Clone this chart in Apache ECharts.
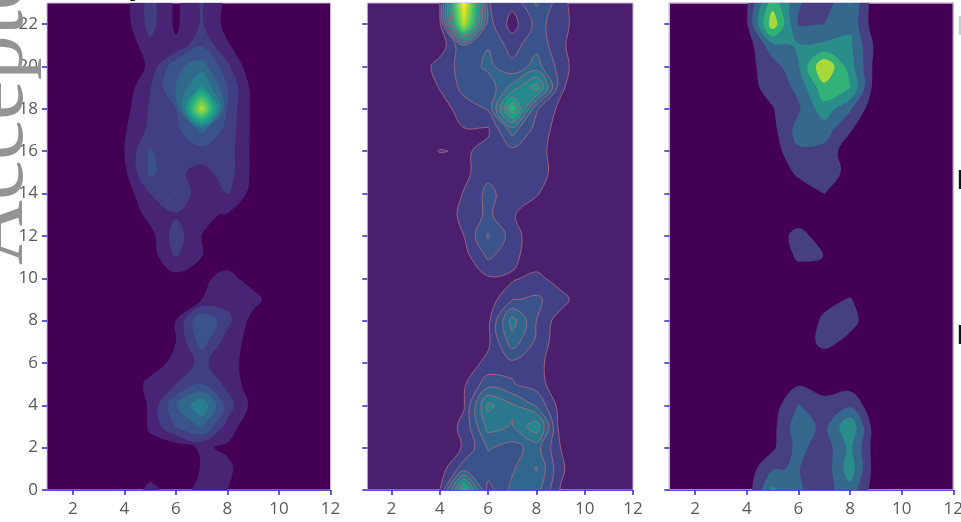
<!DOCTYPE html>
<html><head><meta charset="utf-8">
<style>html,body{margin:0;padding:0;background:#fff;overflow:hidden}#c{width:961px;height:522px}</style>
<script src="https://cdn.jsdelivr.net/npm/echarts@6/dist/echarts.min.js"></script>
</head><body><div id="c"></div>
<script>
const xValues=[1,2,3,4,5,6,7,8,9,10,11,12];
const yValues=[0,1,2,3,4,5,6,7,8,9,10,11,12,13,14,15,16,17,18,19,20,21,22,23];
const xTickValues=[2,4,6,8,10,12];
const yTickValues=[0,2,4,6,8,10,12,14,16,18,20,22];

// rows run from y=0 upward, columns x=1..12
const leftPanel=[
[0,0,0,0,11,3,11,8,0,0,0,0],
[0,0,0,0,3,2,8.5,10,1,0,0,0],
[0,0,0,0,6,3,9.5,6.5,0,0,0,0],
[0,0,0,0,9,25,33,13,1,0,0,0],
[0,0,0,1,9,31,47,20,5,0,0,0],
[0,0,0,0,11,16,24,14,3,0,0,0],
[0,0,0,0,3,11,18,10.5,5,0,0,0],
[0,0,0,0,1,8,28,12,5,0,0,0],
[0,0,0,0,1,8,32,18.5,5,0,0,0],
[0,0,0,0,2,3,8,13,11,2,0,0],
[0,0,0,0,1,5,6,11,4,0,0,0],
[0,0,0,0,4,16,8,3,0,0,0,0],
[0,0,0,0,5,20,7.9,3,0,0,0,0],
[0,0,0,1,11,15,9,7.5,2,0,0,0],
[0,0,0,3,16,24.5,10,16,5,0,0,0],
[0,0,0,6,26,18,13,20,6,0,0,0],
[0,0,0,8,25,17,21,20,6,0,0,0],
[0,0,0,7,18,22,34,21,6,0,0,0],
[0,0,0,5,17,24,90,22,6,0,0,0],
[0,0,0,3,15.5,32,50,24,5,0,0,0],
[0,0,0,0,10,30,36,18,1,0,0,0],
[0,0,0,1,14,9.5,23,9,1,0,0,0],
[0,0,0,4,19,6.5,17,5,0,0,0,0],
[0,0,0,5,19,6.5,17,6,0,0,0,0]];

const middlePanel=[
[9,9,9,15.5,62,20,32,33,15.5,9,9,9],
[9,9,9,12,27,27,29,37.5,17.5,9,9,9],
[9,9,9,9,17,30.6,27.5,33,16,9,9,9],
[9,9,9,12,17.5,39.5,36.5,49,12,9,9,9],
[9,9,9,9,15.5,46,38,29,13,9,9,9],
[9,9,9,9,15,27,23.5,20,10,9,9,9],
[9,9,9,9,12,18,21.5,18,12,9,9,9],
[9,9,9,9,9,14.5,34,21.6,11,9,9,9],
[9,9,9,9,9,14,40,23,12,9,9,9],
[9,9,9,9,9,12,22.5,24,20,9,9,9],
[9,9,9,9,9,15,14.5,19,11,9,9,9],
[9,9,9,9,13,24,19,9,9,9,9,9],
[9,9,9,9,16,30.8,20,10,9,9,9,9],
[9,9,9,11,18,24.5,17,10,9,9,9,9],
[9,9,9,9,16.5,25,19,17,9,9,9,9],
[9,9,9,9,14,21,20,19,13,9,9,9],
[9,9,9,16.5,15,18,21,19,12,9,9,9],
[9,9,9,11,15.5,15,33,20,13,9,9,9],
[9,9,9,12,20,23.5,65,24,14,9,9,9],
[9,9,9,16.5,25,25,40,55,17.5,9,9,9],
[9,9,9,20,25,32,25,33,20,9,9,9],
[9,9,9,11,29.5,29.5,20,28,18,9,9,9],
[9,9,9,14,88,26,13,25,20,9,9,9],
[9,9,9,16.3,100,23.5,18,31,19,9,9,9]];

const rightPanel=[
[0,0,0,0.4,3.2,2.1,1.6,2.6,0.4,0,0,0],
[0,0,0,0.4,1.95,2.05,1.3,3.6,0.4,0,0,0],
[0,0,0,0,0.8,2.35,1.4,3.25,0.4,0,0,0],
[0,0,0,0,0.7,2.6,1.7,3.9,0.3,0,0,0],
[0,0,0,0,0.5,2.05,1.5,1.8,0.2,0,0,0],
[0,0,0,0,0,0.9,0.4,0.6,0,0,0,0],
[0,0,0,0,0,0,0,0,0,0,0,0],
[0,0,0,0,0,0,1.5,0.6,0,0,0,0],
[0,0,0,0,0,0,1.25,1.5,0,0,0,0],
[0,0,0,0,0,0,0.6,1.1,0,0,0,0],
[0,0,0,0,0,0.3,0,0,0,0,0,0],
[0,0,0,0,0,1.2,0.99,0,0,0,0,0],
[0,0,0,0,0,1.6,0.2,0,0,0,0,0],
[0,0,0,0,0,0,0,0,0,0,0,0],
[0,0,0,0,0,0.3,1.02,0.3,0,0,0,0],
[0,0,0,0,0.1,1.25,1.7,0.6,0,0,0,0],
[0,0,0,0,0.5,1.85,1.7,0.4,0,0,0,0],
[0,0,0,0,0.7,2.4,2.5,1.1,0,0,0,0],
[0,0,0,0,0.95,1.85,3.6,2.15,0.2,0,0,0],
[0,0,0,0.7,1.3,2.25,4.7,4.05,0.4,0,0,0],
[0,0,0,0.7,1.5,2.95,6,3.5,0.6,0,0,0],
[0,0,0,0.4,2.7,3.1,3.2,3.2,0.75,0,0,0],
[0,0,0,0.85,5.7,1.9,2.01,2.8,0.3,0,0,0],
[0,0,0,0.85,4.6,2.1,1.4,3.05,0.3,0,0,0]];

const leftLevels=[8,16,24,32,40,48,52,56,60,64,68,72,76,80,84,88];
const middleLevels=[16,23,30,37,44,51,58,61.5,65,68.5,72,75.5,79,82.5,86,89.5,93,96.5];
const middleLineCeiling=58;
const rightLevels=[1,2,3,4,5];
const rightColors=['#463f80','#35688c','#2a8d8a','#33b277','#a8d93a'];

const viridisStops=[[68,1,84],[72,36,117],[65,68,135],[53,95,141],[42,120,142],[33,145,140],[34,168,132],[68,191,112],[122,209,81],[189,223,38],[253,231,37]];
function viridis(t){
  t=Math.max(0,Math.min(1,t))*10;
  const i=Math.min(9,Math.floor(t)),f=t-i,a=viridisStops[i],b=viridisStops[i+1];
  return 'rgb('+[0,1,2].map(k=>Math.round(a[k]+(b[k]-a[k])*f)).join(',')+')';
}

// marching squares with the region >= level kept on the left of each segment
const SEG={1:[[0,3]],2:[[1,0]],3:[[1,3]],4:[[2,1]],6:[[2,0]],7:[[2,3]],8:[[3,2]],9:[[0,2]],11:[[1,2]],12:[[3,1]],13:[[0,1]],14:[[3,0]]};
function traceRings(grid,level){
  const PAD=-1e4,nx=xValues.length+2,ny=yValues.length+2;
  const v=(i,j)=>(i<1||j<1||i>=nx-1||j>=ny-1)?PAD:grid[j-1][i-1];
  const xAt=i=>xValues[0]+(i-1),yAt=j=>yValues[0]+(j-1);
  const xMax=xValues[xValues.length-1],yMax=yValues[yValues.length-1];
  function cross(i,j,e){
    let a,b,x,y;
    if(e===0||e===2){const jj=e===0?j:j+1;a=v(i,jj);b=v(i+1,jj);x=xAt(i)+(level-a)/(b-a);y=yAt(jj);return{k:'h'+i+','+jj,x,y};}
    const ii=e===3?i:i+1;a=v(ii,j);b=v(ii,j+1);x=xAt(ii);y=yAt(j)+(level-a)/(b-a);return{k:'v'+ii+','+j,x,y};
  }
  const next={},pts={};
  for(let j=0;j<ny-1;j++)for(let i=0;i<nx-1;i++){
    const A=v(i,j),B=v(i+1,j),C=v(i+1,j+1),D=v(i,j+1);
    const code=(A>=level?1:0)+(B>=level?2:0)+(C>=level?4:0)+(D>=level?8:0);
    if(code===0||code===15)continue;
    let segs=SEG[code];
    const centre=(A+B+C+D)/4>=level;
    if(code===5)segs=centre?[[0,1],[2,3]]:[[0,3],[2,1]];
    if(code===10)segs=centre?[[3,0],[1,2]]:[[1,0],[3,2]];
    segs.forEach(s=>{
      const p=cross(i,j,s[0]),q=cross(i,j,s[1]);
      pts[p.k]=p;pts[q.k]=q;next[p.k]=q.k;
    });
  }
  const seen={},rings=[];
  Object.keys(next).forEach(s=>{
    if(seen[s])return;
    const r=[];let k=s;
    while(k&&!seen[k]){seen[k]=1;const p=pts[k];
      r.push({x:Math.max(xValues[0],Math.min(xMax,p.x)),y:Math.max(yValues[0],Math.min(yMax,p.y))});k=next[k];}
    rings.push(r);
  });
  return rings.map(r=>{
    const o=[];
    r.forEach(p=>{const l=o[o.length-1];if(!l||Math.abs(l.x-p.x)+Math.abs(l.y-p.y)>1e-6)o.push(p);});
    return o;
  }).filter(r=>r.length>2);
}

function ringPaths(rings,api){
  const xMax=xValues[xValues.length-1],yMax=yValues[yValues.length-1];
  const onEdge=p=>p.x<=xValues[0]+1e-6||p.x>=xMax-1e-6||p.y<=yValues[0]+1e-6||p.y>=yMax-1e-6;
  let fill='',line='';
  rings.forEach(r=>{
    const n=r.length,P=r.map(p=>{const c=api.coord([p.x,p.y]);return{x:c[0],y:c[1],edge:onEdge(p)};});
    const tan=P.map((p,i)=>{
      if(p.edge)return{x:0,y:0};
      const a=P[(i-1+n)%n],b=P[(i+1)%n],d=Math.hypot(p.x-a.x,p.y-a.y)+Math.hypot(b.x-p.x,b.y-p.y)||1;
      return{x:(b.x-a.x)/d,y:(b.y-a.y)/d};
    });
    fill+='M'+P[0].x.toFixed(2)+' '+P[0].y.toFixed(2);
    let penDown=false;
    for(let i=0;i<n;i++){
      const j=(i+1)%n,p=P[i],q=P[j],d=Math.hypot(q.x-p.x,q.y-p.y)*0.38;
      const c='C'+(p.x+tan[i].x*d).toFixed(2)+' '+(p.y+tan[i].y*d).toFixed(2)+' '+(q.x-tan[j].x*d).toFixed(2)+' '+(q.y-tan[j].y*d).toFixed(2)+' '+q.x.toFixed(2)+' '+q.y.toFixed(2);
      fill+=c;
      if(p.edge&&q.edge){penDown=false;continue;}
      if(!penDown){line+='M'+p.x.toFixed(2)+' '+p.y.toFixed(2);penDown=true;}
      line+=c;
    }
    fill+='Z';
  });
  return{fill,line};
}

function contourSeries(idx,grid,levels,colorOf,lineColor,lineCeiling){
  return{
    type:'custom',coordinateSystem:'cartesian2d',xAxisIndex:idx,yAxisIndex:idx,
    silent:true,animation:false,clip:true,
    data:levels.map((l,i)=>[i,l]),
    encode:{x:[],y:[]},
    renderItem(params,api){
      const level=levels[params.dataIndex];
      const rings=traceRings(grid,level);
      if(!rings.length)return{type:'group',children:[]};
      const p=ringPaths(rings,api);
      const kids=[{type:'path',shape:{pathData:p.fill},style:{fill:colorOf(level,params.dataIndex),stroke:null}}];
      if(lineColor&&p.line&&level<=lineCeiling)kids.push({type:'path',shape:{pathData:p.line},style:{fill:'none',stroke:lineColor,lineWidth:1}});
      return{type:'group',children:kids};
    }
  };
}

const tickBlue='#2a2ac8',labelGrey='#5a5a5a',frame='#c9b3de';
const grids=[
 {left:47,width:283.5,top:3,height:487,show:true,backgroundColor:'#440154',borderColor:frame,borderWidth:1,outerBoundsMode:'none'},
 {left:367.3,width:265.7,top:3,height:487,show:true,backgroundColor:'#4a1f6e',borderColor:frame,borderWidth:1,outerBoundsMode:'none'},
 {left:669.3,width:284,top:3,height:487,show:true,backgroundColor:'#440154',borderColor:frame,borderWidth:1.5,outerBoundsMode:'none'}
];
const labelFont={color:labelGrey,fontSize:17,fontFamily:'"Open Sans"'};
const xAxes=grids.map((g,i)=>({
  type:'value',gridIndex:i,min:1,max:12,splitLine:{show:false},
  axisLine:{show:true,onZero:false,lineStyle:{color:'#5850c4',width:1}},
  axisTick:{show:true,length:5,customValues:xTickValues,lineStyle:{color:tickBlue,width:1.5}},
  axisLabel:Object.assign({show:true,margin:11,customValues:xTickValues,hideOverlap:false},labelFont)
}));
const yAxes=grids.map((g,i)=>({
  type:'value',gridIndex:i,min:0,max:23,splitLine:{show:false},
  axisLine:{show:false},
  axisTick:{show:true,length:5,customValues:yTickValues,lineStyle:{color:tickBlue,width:1.5}},
  axisLabel:Object.assign({show:i===0,margin:9,customValues:yTickValues,hideOverlap:false},labelFont)
}));

const chart=echarts.init(document.getElementById('c'),null,{renderer:'canvas'});
chart.setOption({
  animation:false,
  grid:grids,xAxis:xAxes,yAxis:yAxes,
  series:[
    contourSeries(0,leftPanel,leftLevels,l=>viridis((l+2)/100),null,0),
    contourSeries(1,middlePanel,middleLevels,l=>viridis((l+3)/100),'rgba(170,105,125,0.85)',middleLineCeiling),
    contourSeries(2,rightPanel,rightLevels,(l,i)=>rightColors[i],null,0)
  ],
  graphic:[
    {type:'text',z:50,rotation:Math.PI/2,x:-47,y:265,style:{text:'Accepted',fill:'#949494',font:'90px "Liberation Serif"',textAlign:'left'}},
    {type:'text',z:50,x:66,y:-15,style:{text:')',fill:'#111',font:'16px "Liberation Sans"'}},
    {type:'text',z:50,x:128,y:-15,style:{text:'g',fill:'#111',font:'17px "Liberation Sans"'}},
    {type:'text',z:50,x:334,y:-15,style:{text:'(d)',fill:'#111',font:'16px "Liberation Sans"'}},
    {type:'text',z:50,x:956.5,y:13,style:{text:'E',fill:'#cccccc',font:'28px "Liberation Sans"'}},
    {type:'text',z:50,x:956.5,y:167,style:{text:'E',fill:'#111',font:'28px "Liberation Sans"'}},
    {type:'text',z:50,x:956.5,y:322,style:{text:'E',fill:'#111',font:'28px "Liberation Sans"'}}
  ]
});
</script></body></html>
